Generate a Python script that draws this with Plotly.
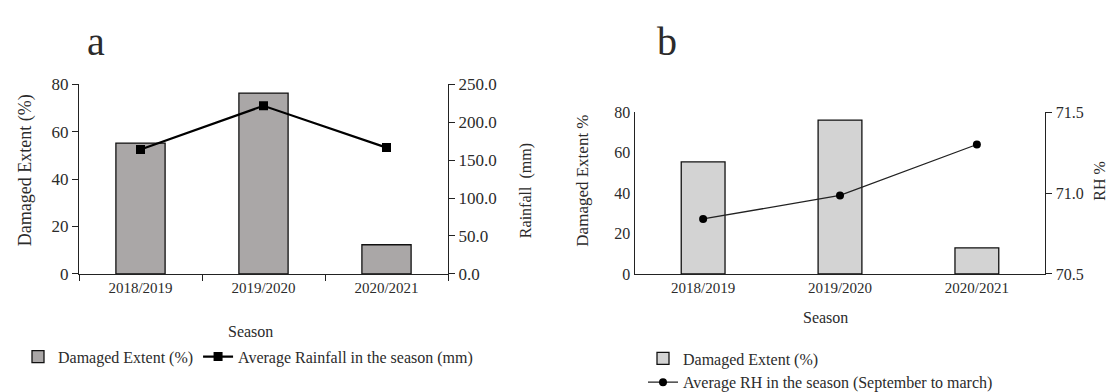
import plotly.graph_objects as go

seasons = ["2018/2019", "2019/2020", "2020/2021"]
damaged_a = [55.2, 76.3, 12.3]
rainfall = [164.0, 221.6, 166.5]
damaged_b = [55.4, 76.1, 12.9]
rh = [70.84, 70.985, 71.30]

W, H = 1116, 392
FONT = "Liberation Serif"
TXT = "#2b2b2b"

def px(x):
    return x / W

def py(y):
    return 1 - y / H

fig = go.Figure()

# Panel a
fig.add_trace(go.Bar(
    x=seasons, y=damaged_a, name="Damaged Extent (%)",
    marker=dict(color="#aaa7a7", line=dict(color="#111", width=1.3)),
    width=0.4, xaxis="x", yaxis="y", legend="legend",
))
fig.add_trace(go.Scatter(
    x=seasons, y=rainfall, name="Average Rainfall in the season (mm)",
    mode="lines+markers",
    line=dict(color="#000", width=2.2),
    marker=dict(symbol="square", size=9, color="#000"),
    xaxis="x", yaxis="y2", legend="legend",
))

# Panel b
fig.add_trace(go.Bar(
    x=seasons, y=damaged_b, name="Damaged Extent (%)",
    marker=dict(color="#d3d3d3", line=dict(color="#111", width=1.3)),
    width=0.32, xaxis="x2", yaxis="y3", legend="legend2",
))
fig.add_trace(go.Scatter(
    x=seasons, y=rh, name="Average RH in the season (September to march)",
    mode="lines+markers",
    line=dict(color="#222", width=1.3),
    marker=dict(symbol="circle", size=8, color="#000"),
    xaxis="x2", yaxis="y4", legend="legend2",
))

axis_common = dict(showgrid=False, zeroline=False, showline=True,
                   linecolor="#222", linewidth=1.3)
xfont = dict(family=FONT, size=15, color=TXT)
yfont_a = dict(family=FONT, size=17, color=TXT)
yfont_b = dict(family=FONT, size=16, color=TXT)

fig.update_layout(
    width=W, height=H,
    margin=dict(l=0, r=0, t=0, b=0),
    paper_bgcolor="white", plot_bgcolor="white",
    font=dict(family=FONT, size=15, color=TXT),
    xaxis=dict(domain=[px(71), px(440)], anchor="y", type="category",
               ticks="outside", tickson="boundaries", ticklen=6, tickcolor="#222",
               tickfont=xfont, **axis_common),
    yaxis=dict(domain=[py(270), py(70.7)], anchor="x", range=[0, 80], dtick=20,
               ticks="outside", ticklen=6, tickcolor="#222", tickfont=yfont_a,
               **axis_common),
    yaxis2=dict(overlaying="y", side="right", anchor="x", range=[0, 250], dtick=50,
                tickformat=".1f", ticks="outside", ticklen=6, tickcolor="#222",
                tickfont=yfont_a, **axis_common),
    xaxis2=dict(domain=[px(626.7), px(1037.3)], anchor="y3", type="category",
                ticks="", tickfont=xfont, **axis_common),
    yaxis3=dict(domain=[py(270), py(100)], anchor="x2", range=[0, 80], dtick=20,
                ticks="", tickfont=yfont_b, **axis_common),
    yaxis4=dict(overlaying="y3", side="right", anchor="x2", range=[70.5, 71.5],
                dtick=0.5, tickformat=".1f", ticks="outside", ticklen=6,
                tickcolor="#222", tickfont=yfont_b, **axis_common),
    legend=dict(orientation="h", x=px(10), y=py(357), xanchor="left", yanchor="middle",
                font=dict(family=FONT, size=16, color=TXT), bgcolor="rgba(0,0,0,0)",
                traceorder="normal", itemwidth=30),
    legend2=dict(orientation="v", x=px(635), y=py(341), xanchor="left", yanchor="top",
                 font=dict(family=FONT, size=16, color=TXT), bgcolor="rgba(0,0,0,0)",
                 traceorder="normal", itemwidth=30, tracegroupgap=0),
    showlegend=True,
)

annos = [
    dict(text="a", x=px(88), y=1, yanchor="top", font=dict(size=40)),
    dict(text="b", x=px(659), y=1, yanchor="top", font=dict(size=40)),
    dict(text="Season", x=px(242), y=py(331), font=dict(size=16)),
    dict(text="Season", x=px(817), y=py(316), font=dict(size=16)),
    dict(text="Damaged Extent (%)", x=px(17), y=py(161), textangle=-90, font=dict(size=18)),
    dict(text="Rainfall  (mm)", x=px(518), y=py(183), textangle=-90, font=dict(size=16)),
    dict(text="Damaged Extent %", x=px(575), y=py(172), textangle=-90, font=dict(size=17)),
    dict(text="RH %", x=px(1092), y=py(172), textangle=-90, font=dict(size=16)),
]
for a in annos:
    a.setdefault("yanchor", "middle")
    a.update(xref="paper", yref="paper", showarrow=False, xanchor="center")
    a["font"] = dict(family=FONT, color=TXT, **a["font"])
    fig.add_annotation(**a)

fig.write_html("out.html")
